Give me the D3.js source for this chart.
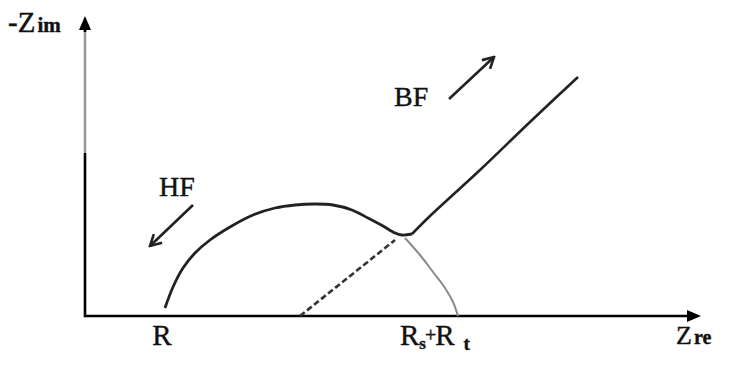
<!DOCTYPE html>
<html>
<head>
<meta charset="utf-8">
<script src="https://cdn.jsdelivr.net/npm/d3@7"></script>
<style>
  body { margin: 0; background: #fff; }
  text { font-family: "Liberation Serif", "Times New Roman", serif; fill: #111; stroke: #111; stroke-width: 0.4; }
</style>
</head>
<body>
<svg id="nyquist" width="730" height="365"></svg>
<script>
// values (arbitrary Z units, origin at the axes corner)
var arcRe  = [80, 88, 98, 110, 125, 145, 168, 190, 210, 230, 248, 267, 283, 298, 310, 317, 327];
var arcIm  = [8, 29, 48, 63, 76, 89, 101, 108, 111, 112, 111, 106, 98, 90, 83, 81, 82];
var lineRe = [327, 345, 395, 445, 493];
var lineIm = [82, 100, 146, 194, 239];
var ghostRe = [320, 335, 348, 360, 368, 373];
var ghostIm = [78, 61, 44, 28, 14, 0];
var dashRe = [215, 310];
var dashIm = [0, 76];
var tickValues = [77, 315];
var tickLabels = ["R", "Rs+Rt"];
var hfArrow = [[108, 111], [65, 70]];
var bfArrow = [[364, 217], [409, 259]];

var svg = d3.select("#nyquist"),
    x = d3.scaleLinear().domain([0, 615]).range([85, 700]),
    y = d3.scaleLinear().domain([0, 300]).range([316, 16]);

var line = d3.line()
    .x(function(d) { return x(d[0]); })
    .y(function(d) { return y(d[1]); })
    .curve(d3.curveCatmullRom);

var defs = svg.append("defs");
defs.append("marker")
    .attr("id", "axisHead")
    .attr("markerUnits", "userSpaceOnUse")
    .attr("viewBox", "0 0 14 12")
    .attr("refX", 1).attr("refY", 6)
    .attr("markerWidth", 14).attr("markerHeight", 12)
    .attr("orient", "auto")
  .append("path")
    .attr("d", "M0,0L14,6L0,12Z")
    .attr("fill", "#000");
defs.append("marker")
    .attr("id", "openHead")
    .attr("markerUnits", "userSpaceOnUse")
    .attr("viewBox", "0 0 14 14")
    .attr("refX", 12).attr("refY", 7)
    .attr("markerWidth", 14).attr("markerHeight", 14)
    .attr("orient", "auto")
  .append("path")
    .attr("d", "M1,1L12,7L1,13")
    .attr("fill", "none")
    .attr("stroke", "#222")
    .attr("stroke-width", 2.6);

// axes
svg.append("line")
    .attr("x1", x(0)).attr("x2", x(603))
    .attr("y1", y(0)).attr("y2", y(0))
    .attr("stroke", "#000").attr("stroke-width", 2.6)
    .attr("marker-end", "url(#axisHead)");
svg.append("line")
    .attr("x1", x(0)).attr("x2", x(0))
    .attr("y1", y(163)).attr("y2", y(287))
    .attr("stroke", "#999").attr("stroke-width", 2.6);
svg.append("line")
    .attr("x1", x(0)).attr("x2", x(0))
    .attr("y1", y(0) + 1.3).attr("y2", y(163))
    .attr("stroke", "#000").attr("stroke-width", 2.6);
svg.append("line")
    .attr("x1", x(0)).attr("x2", x(0))
    .attr("y1", y(284)).attr("y2", y(287))
    .attr("stroke", "#000").attr("stroke-width", 2.6)
    .attr("marker-end", "url(#axisHead)");

// curves
svg.append("path")
    .datum(d3.zip(ghostRe, ghostIm))
    .attr("d", line)
    .attr("fill", "none").attr("stroke", "#8a8a8a").attr("stroke-width", 2);
svg.append("path")
    .datum(d3.zip(dashRe, dashIm))
    .attr("d", line)
    .attr("fill", "none").attr("stroke", "#333").attr("stroke-width", 2.6)
    .attr("stroke-dasharray", "6,3");
svg.append("path")
    .datum(d3.zip(arcRe, arcIm))
    .attr("d", line)
    .attr("fill", "none").attr("stroke", "#222").attr("stroke-width", 2.8);
svg.append("path")
    .datum(d3.zip(lineRe, lineIm))
    .attr("d", line)
    .attr("fill", "none").attr("stroke", "#222").attr("stroke-width", 2.6);

// frequency arrows
[hfArrow, bfArrow].forEach(function(a) {
  svg.append("path")
      .datum(a)
      .attr("d", d3.line().x(function(d) { return x(d[0]); }).y(function(d) { return y(d[1]); }))
      .attr("fill", "none").attr("stroke", "#222").attr("stroke-width", 2.6)
      .attr("marker-end", "url(#openHead)");
});

svg.append("text").attr("x", 159).attr("y", 196).attr("font-size", 28).text("HF");
svg.append("text").attr("x", 394).attr("y", 106).attr("font-size", 28).text("BF");

// axis titles
var ti = svg.append("text").attr("x", 8).attr("y", 32);
ti.append("tspan").attr("font-size", 29).text("-Z");
ti.append("tspan").attr("font-size", 21).attr("font-weight", "bold").attr("dx", 2).text("im");

var tr = svg.append("text").attr("x", 676).attr("y", 344);
tr.append("tspan").attr("font-size", 26).text("Z");
tr.append("tspan").attr("font-size", 20).attr("font-weight", "bold").attr("dx", 2).text("re");

// tick labels
svg.append("text")
    .attr("x", x(tickValues[0])).attr("y", 345)
    .attr("text-anchor", "middle").attr("font-size", 29)
    .text(tickLabels[0]);
var rs = svg.append("text").attr("x", x(tickValues[1])).attr("y", 345).attr("font-size", 29);
rs.append("tspan").text("R");
rs.append("tspan").attr("font-size", 17).attr("font-weight", "bold").attr("dy", 4).text("s");
rs.append("tspan").attr("dx", -1).attr("dy", -7).attr("font-size", 20).text("+");
rs.append("tspan").attr("dy", 3).attr("dx", -1).text("R");
rs.append("tspan").attr("font-size", 19).attr("font-weight", "bold").attr("dx", 9).attr("dy", 5).text("t");
</script>
</body>
</html>
